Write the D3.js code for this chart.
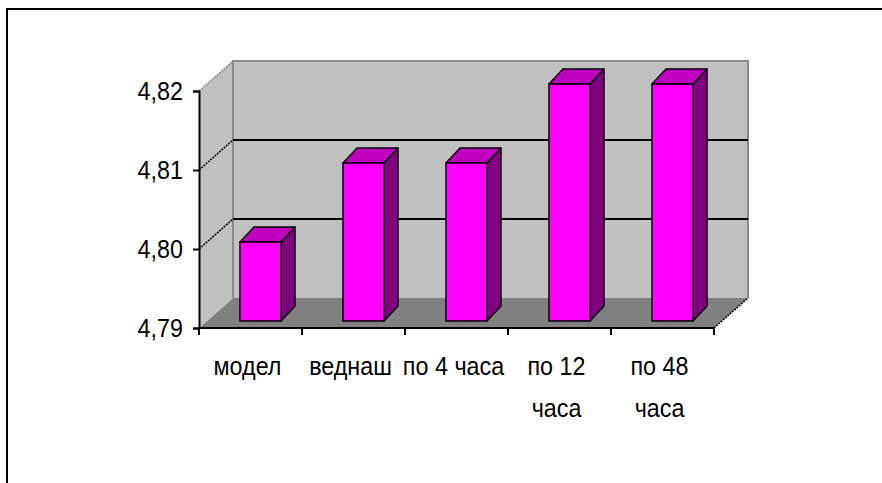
<!DOCTYPE html>
<html>
<head>
<meta charset="utf-8">
<script src="https://cdn.jsdelivr.net/npm/d3@7"></script>
<style>
  html, body { margin: 0; padding: 0; background: #fff; }
  svg { display: block; }
  text { font-family: "Liberation Sans", Arial, sans-serif; fill: #000; }
</style>
</head>
<body>
<svg id="chart" width="882" height="483"></svg>
<script>
// Chart data
const categories = ["модел", "веднаш", "по 4 часа", "по 12 часа", "по 48 часа"];
const labelLines = [["модел"], ["веднаш"], ["по 4 часа"], ["по 12", "часа"], ["по 48", "часа"]];
const values = [4.80, 4.81, 4.81, 4.82, 4.82];
const yTicks = [4.79, 4.80, 4.81, 4.82];

// Condensed label style
const fontSize = 26.5;
const squeeze = 0.88;

const svg = d3.select("#chart");

// Frame around the chart area
svg.append("path")
  .attr("d", "M7,483 V9 H882")
  .attr("fill", "none").attr("stroke", "#000").attr("stroke-width", 2);

// Scales for the front plane
const x = d3.scaleBand().domain(categories).range([199, 714]).paddingInner(0).paddingOuter(0);
const y = d3.scaleLinear().domain([4.79, 4.82]).range([328, 91]);

// 3D depth vector of the plot box, and of the bars inside it
const depth = { dx: 34, dy: -30 };
const barShift = { dx: 8, dy: -7 };
const barDepth = { dx: 14, dy: -15 };
const barOffset = 33, barWidth = 41;

const x0 = x.range()[0], x1 = x.range()[1];
const yBase = y(4.79), yTop = y(4.82);

const g = svg.append("g");

// Floor
g.append("path")
  .attr("d", `M${x0},${yBase} L${x1},${yBase} L${x1 + depth.dx},${yBase + depth.dy} L${x0 + depth.dx},${yBase + depth.dy} Z`)
  .attr("fill", "#808080");

// Left side wall
g.append("path")
  .attr("d", `M${x0},${yTop} L${x0 + depth.dx},${yTop + depth.dy} L${x0 + depth.dx},${yBase + depth.dy} L${x0},${yBase} Z`)
  .attr("fill", "#c0c0c0");

// Back wall
g.append("rect")
  .attr("x", x0 + depth.dx).attr("y", yTop + depth.dy)
  .attr("width", x1 - x0).attr("height", yBase - yTop)
  .attr("fill", "#c0c0c0");
g.append("path")
  .attr("d", `M${x0 + depth.dx},${yBase + depth.dy} V${yTop + depth.dy} H${x1 + depth.dx} V${yBase + depth.dy}`)
  .attr("fill", "none").attr("stroke", "#8a8a8a").attr("stroke-width", 2);
g.append("path")
  .attr("d", `M${x0},${yTop} L${x0 + depth.dx},${yTop + depth.dy}`)
  .attr("fill", "none").attr("stroke", "#8a8a8a").attr("stroke-width", 1.5)
  .attr("stroke-dasharray", "2,1");

// Gridlines on back wall and side wall
const grid = yTicks.filter(v => v > 4.79 && v < 4.82);
g.selectAll("line.grid").data(grid).join("line")
  .attr("class", "grid")
  .attr("x1", x0 + depth.dx).attr("x2", x1 + depth.dx)
  .attr("y1", d => y(d) + depth.dy).attr("y2", d => y(d) + depth.dy)
  .attr("stroke", "#000").attr("stroke-width", 2);
g.selectAll("line.sgrid").data(grid).join("line")
  .attr("class", "sgrid")
  .attr("x1", x0).attr("x2", x0 + depth.dx)
  .attr("y1", d => y(d)).attr("y2", d => y(d) + depth.dy)
  .attr("stroke", "#000").attr("stroke-width", 1.5)
  .attr("stroke-dasharray", "2,1");

// Right floor edge
g.append("line")
  .attr("x1", x1).attr("y1", yBase)
  .attr("x2", x1 + depth.dx).attr("y2", yBase + depth.dy)
  .attr("stroke", "#000").attr("stroke-width", 1.5)
  .attr("stroke-dasharray", "2,1");

// Bars
const bars = g.selectAll("g.bar").data(categories.map((c, i) => ({ c, v: values[i] }))).join("g")
  .attr("class", "bar");

bars.each(function (d) {
  const b = d3.select(this);
  const bx = x(d.c) + barOffset + barShift.dx;
  const by0 = y(4.79) + barShift.dy;
  const by1 = y(d.v) + barShift.dy;
  const w = barWidth, ddx = barDepth.dx, ddy = barDepth.dy;
  // side face
  b.append("path")
    .attr("d", `M${bx + w},${by1} L${bx + w + ddx},${by1 + ddy} L${bx + w + ddx},${by0 + ddy} L${bx + w},${by0} Z`)
    .attr("fill", "#800080").attr("stroke", "#000").attr("stroke-width", 1.5).attr("stroke-linejoin", "round");
  // top face
  b.append("path")
    .attr("d", `M${bx},${by1} L${bx + ddx},${by1 + ddy} L${bx + w + ddx},${by1 + ddy} L${bx + w},${by1} Z`)
    .attr("fill", "#c000c0").attr("stroke", "#000").attr("stroke-width", 1.5).attr("stroke-linejoin", "round");
  // front face
  b.append("rect")
    .attr("x", bx).attr("y", by1).attr("width", w).attr("height", by0 - by1)
    .attr("fill", "#ff00ff").attr("stroke", "#000").attr("stroke-width", 1.5);
});

// Y axis
const fmt = d3.formatLocale({ decimal: ",", thousands: " ", grouping: [3], currency: ["", ""] }).format(".2f");
const yAxis = svg.append("g")
  .attr("transform", `translate(${x0},0)`)
  .call(d3.axisLeft(y).tickValues(yTicks).tickFormat(fmt).tickSize(6).tickPadding(10));
yAxis.select(".domain").attr("stroke", "#000").attr("stroke-width", 2);
yAxis.selectAll(".tick line").attr("stroke", "#000").attr("stroke-width", 2);
yAxis.selectAll(".tick text")
  .attr("font-size", fontSize).attr("fill", "#000")
  .attr("font-family", "'Liberation Sans', Arial, sans-serif")
  .attr("x", -16 / squeeze)
  .attr("transform", `scale(${squeeze},1)`);

// X axis line and ticks at category boundaries
const xa = svg.append("g");
xa.append("line").attr("x1", x0 - 1).attr("x2", x1).attr("y1", yBase).attr("y2", yBase)
  .attr("stroke", "#000").attr("stroke-width", 2);
const bounds = categories.map(c => x(c)).concat([x1]);
xa.selectAll("line.tick").data(bounds).join("line")
  .attr("class", "tick")
  .attr("x1", d => d).attr("x2", d => d)
  .attr("y1", yBase).attr("y2", yBase + 7)
  .attr("stroke", "#000").attr("stroke-width", 2);

// Category labels
const labels = xa.selectAll("g.lab").data(categories).join("g")
  .attr("class", "lab")
  .attr("transform", d => `translate(${x(d) + x.bandwidth() / 2 - 3},375) scale(${squeeze},1)`);
labels.each(function (d, i) {
  const t = d3.select(this).append("text")
    .attr("text-anchor", "middle")
    .attr("font-size", fontSize);
  labelLines[i].forEach((ln, k) => {
    t.append("tspan").attr("x", 0).attr("dy", k === 0 ? 0 : 42).text(ln);
  });
});
</script>
</body>
</html>
